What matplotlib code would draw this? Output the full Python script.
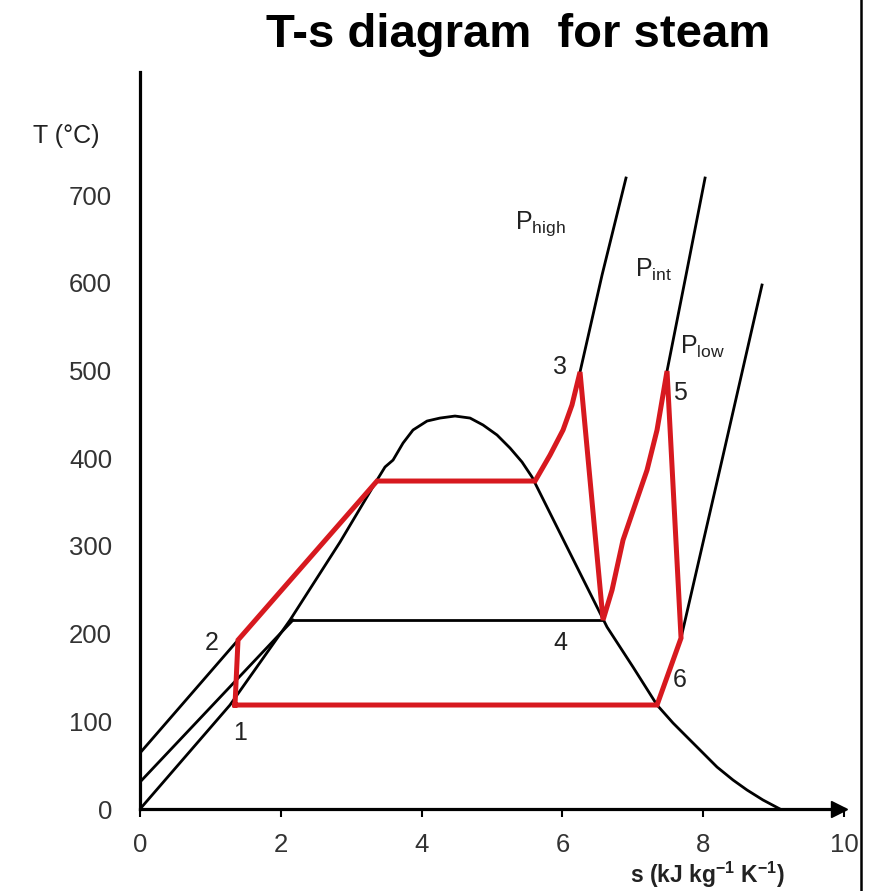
import matplotlib
matplotlib.use("Agg")
import matplotlib.pyplot as plt
from matplotlib.lines import Line2D

plt.rcParams['font.family'] = ['Liberation Sans', 'DejaVu Sans']
plt.rcParams['mathtext.fontset'] = 'custom'
plt.rcParams['mathtext.rm'] = 'Liberation Sans'
plt.rcParams['mathtext.bf'] = 'Liberation Sans:bold'

# saturation dome
dome_s = [0, 0.639, 1.278, 2.131, 2.841, 3.366, 3.480, 3.594, 3.736, 3.878, 4.077,
          4.261, 4.474, 4.688, 4.872, 5.071, 5.256, 5.426, 5.568, 6.065, 6.534,
          6.634, 7.003, 7.344, 7.571, 7.770, 7.997, 8.196, 8.423, 8.622, 8.849, 9.091]
dome_T = [0, 59.3, 118.6, 215.5, 304.4, 375.1, 390.0, 397.9, 417.3, 432.2, 442.4,
          445.8, 448.1, 445.8, 437.9, 426.5, 411.6, 395.7, 378.6, 298.7, 223.5,
          207.5, 161.9, 118.6, 98.1, 82.1, 63.9, 47.9, 33.1, 21.7, 10.3, 0]

# constant pressure lines (black parts)
phigh_liq_s = [0, 1.392]
phigh_liq_T = [63.9, 192.7]
phigh_sup_s = [6.250, 6.563, 6.903]
phigh_sup_T = [498.3, 608.9, 719.5]

pint_liq_s = [0, 2.173]
pint_liq_T = [30.8, 215.5]
pint_sat_s = [2.173, 6.577]
pint_sat_T = [215.5, 215.5]
pint_sup_s = [7.486, 7.756, 8.026]
pint_sup_T = [499.4, 608.9, 719.5]

plow_sup_s = [7.685, 8.267, 8.835]
plow_sup_T = [195.0, 397.9, 597.5]

# Rankine cycle with reheat: 1-2-...-3-4-...-5-6-1
cycle_s = [1.349, 1.392, 3.366, 5.611, 5.824, 6.009, 6.136, 6.250, 6.577, 6.705,
           6.861, 7.031, 7.202, 7.344, 7.486, 7.685, 7.344, 1.349]
cycle_T = [118.6, 192.7, 374.0, 374.0, 403.6, 432.2, 460.7, 498.3, 215.5, 249.7,
           306.7, 346.6, 386.5, 432.2, 499.4, 195.0, 118.6, 118.6]

point_labels = ['1', '2', '3', '4', '5', '6']
point_s = [1.42, 1.02, 5.97, 5.97, 7.67, 7.67]
point_T = [86.7, 189, 504, 189, 474, 147]

p_labels = [r'P$_{\mathregular{high}}$', r'P$_{\mathregular{int}}$', r'P$_{\mathregular{low}}$']
p_s = [5.33, 7.03, 7.67]
p_T = [668, 614.6, 526.8]

xticks = [0, 2, 4, 6, 8, 10]
yticks = [0, 100, 200, 300, 400, 500, 600, 700]

fig = plt.figure(figsize=(8.79, 8.91), dpi=100)
ax = fig.add_axes([0.1593, 0.0920, 0.8009, 0.8272])

lw = 2.0
ax.plot(dome_s, dome_T, color='black', lw=lw)
for xs, ys in [(phigh_liq_s, phigh_liq_T), (phigh_sup_s, phigh_sup_T),
               (pint_liq_s, pint_liq_T), (pint_sat_s, pint_sat_T),
               (pint_sup_s, pint_sup_T), (plow_sup_s, plow_sup_T)]:
    ax.plot(xs, ys, color='black', lw=lw)
ax.plot(cycle_s, cycle_T, color='#d7191f', lw=3.6, solid_joinstyle='miter')

for lab, s, t in zip(point_labels, point_s, point_T):
    ax.text(s, t, lab, fontsize=18, color='#222222', ha='center', va='center')
for lab, s, t in zip(p_labels, p_s, p_T):
    ax.text(s, t, lab, fontsize=18, color='#222222', ha='left', va='center')

ax.set_xlim(0, 10)
ax.set_ylim(0, 840.4)
ax.set_xticks(xticks)
ax.set_yticks(yticks)
ax.tick_params(axis='x', direction='out', length=6, width=1.5, pad=11,
               labelsize=18.5, labelcolor='#333333')
ax.tick_params(axis='y', length=0, pad=20, labelsize=18.5, labelcolor='#333333')
for side in ['top', 'right']:
    ax.spines[side].set_visible(False)
for side in ['left', 'bottom']:
    ax.spines[side].set_linewidth(2.3)
ax.plot(9.93, 0, marker='>', ms=11, color='black', clip_on=False)

fig.text(0.590, 1 - 35 / 891, 'T-s diagram  for steam', fontsize=34, fontweight='bold',
         ha='center', va='center')
fig.text(66 / 879, 1 - 136 / 891, 'T (°C)', fontsize=18, color='#222222',
         ha='center', va='center')
fig.text(707 / 879, 1 - 883 / 891, r's (kJ kg$^{\mathbf{-1}}$ K$^{\mathbf{-1}}$)',
         fontsize=16.5, fontweight='bold', color='#222222', ha='center', va='baseline')

fig.add_artist(Line2D([861 / 879, 861 / 879], [0, 1], color='black', lw=1.8))

fig.savefig('out.png', dpi=100)
